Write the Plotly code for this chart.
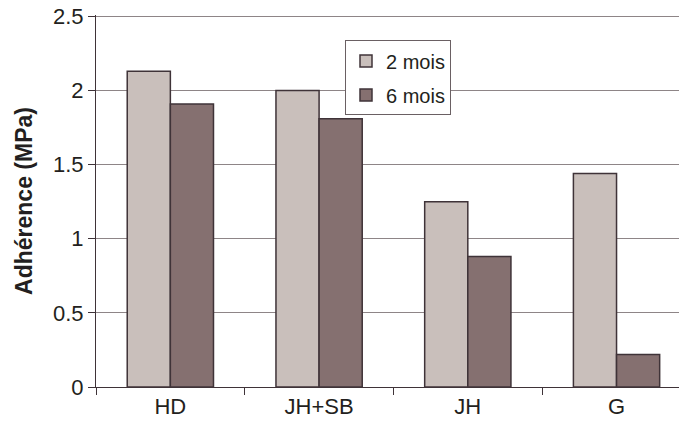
import plotly.graph_objects as go

categories = ["HD", "JH+SB", "JH", "G"]
mois2 = [2.13, 2.00, 1.25, 1.44]
mois6 = [1.91, 1.81, 0.88, 0.22]
series_names = ["2 mois", "6 mois"]

FONT = "Liberation Sans, Arial, sans-serif"
TXT = "#231f20"
OUT = "#3f3338"

fig = go.Figure()
fig.add_trace(go.Bar(x=categories, y=mois2, name=series_names[0], legendgroup="a",
                     marker=dict(color="#c9bfbb", line=dict(color=OUT, width=1.5))))
fig.add_trace(go.Bar(x=categories, y=mois6, name=series_names[1], legendgroup="b",
                     marker=dict(color="#857070", line=dict(color=OUT, width=1.5))))

W, H = 679, 432
L, T, B, R = 96, 14.5, 45, 0
pw = W - L - R
ph = H - T - B

fig.update_layout(
    width=W, height=H,
    margin=dict(l=L, r=R, t=T, b=B, autoexpand=False),
    paper_bgcolor="white", plot_bgcolor="white",
    font=dict(family=FONT, size=20, color=TXT),
    barmode="group", bargap=0.42, bargroupgap=0,
    showlegend=True,
    legend=dict(x=(345 - L) / pw, y=1 - (40 - T) / ph, xanchor="left", yanchor="top",
                bgcolor="white", bordercolor="#6a6063", borderwidth=1,
                font=dict(size=20, color=TXT), tracegroupgap=5,
                traceorder="grouped"),
)

fig.update_xaxes(
    range=[-0.5, 3.42], automargin=False,
    showline=True, linecolor=OUT, linewidth=1,
    ticks="outside", tickson="boundaries", ticklen=7, tickcolor=OUT,
    tickfont=dict(size=22, color=TXT), showgrid=False,
)
fig.update_yaxes(
    range=[0, 2.51], dtick=0.5, tick0=0, automargin=False,
    showline=True, linecolor=OUT, linewidth=1,
    ticks="outside", ticklen=7, tickcolor=OUT,
    showgrid=True, gridcolor="#8e8587", gridwidth=1,
    zeroline=False, ticklabeloverflow="allow",
    tickfont=dict(size=22, color=TXT),
    title=dict(text="<b>Adhérence (MPa)</b>", font=dict(size=23, color=TXT), standoff=13),
)

fig.write_html("out.html", config={"displayModeBar": False},
               post_script="document.body.style.margin='0';")
